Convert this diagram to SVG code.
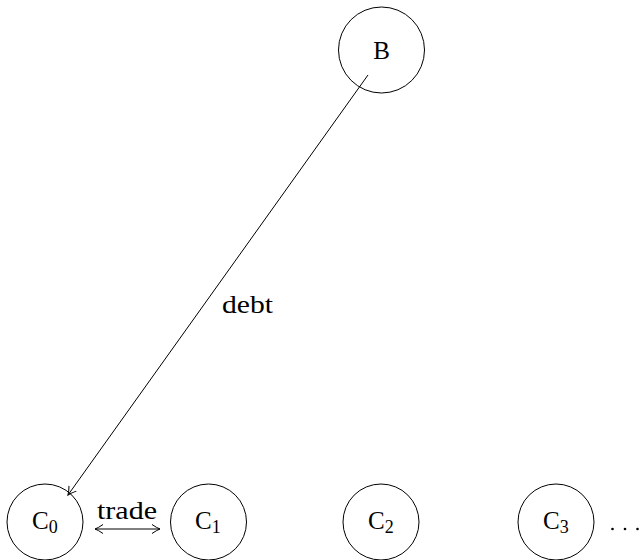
<svg xmlns="http://www.w3.org/2000/svg" width="640" height="560" viewBox="0 0 640 560">
<style>
  .node circle { fill: none; stroke: #000; stroke-width: 1; }
  text { font-family: "Liberation Serif", "DejaVu Serif", serif; fill: #000; }
  .lbl { font-size: 25px; }
  .sub { font-size: 18px; }
  .edge { fill: none; stroke: #000; stroke-width: 1; }
</style>
<defs>
  <marker id="arr" viewBox="-10 -6 12 12" refX="0" refY="0" markerWidth="12" markerHeight="12" markerUnits="userSpaceOnUse" orient="auto-start-reverse">
    <path d="M-8,-4.5 Q-3,-1 0,0 Q-3,1 -8,4.5" fill="none" stroke="#000" stroke-width="1"/>
  </marker>
</defs>
<rect width="640" height="560" fill="#fff"/>
<g id="B" class="node">
  <circle cx="381.5" cy="50" r="43"/>
  <text x="381.5" y="58.5" class="lbl" text-anchor="middle">B</text>
</g>
<g id="C0" class="node">
  <circle cx="45" cy="522" r="38"/>
  <text x="32" y="529" class="lbl">C<tspan class="sub" dy="4">0</tspan></text>
</g>
<g id="C1" class="node">
  <circle cx="208.5" cy="522" r="38"/>
  <text x="195" y="529" class="lbl">C<tspan class="sub" dy="4">1</tspan></text>
</g>
<g id="C2" class="node">
  <circle cx="381" cy="522" r="38"/>
  <text x="368" y="529" class="lbl">C<tspan class="sub" dy="4">2</tspan></text>
</g>
<g id="C3" class="node">
  <circle cx="556" cy="522" r="38"/>
  <text x="543" y="529" class="lbl">C<tspan class="sub" dy="4">3</tspan></text>
</g>
<g id="dots">
  <circle cx="612.5" cy="529" r="1.3" fill="#000"/>
  <circle cx="625" cy="529" r="1.3" fill="#000"/>
  <circle cx="637.5" cy="529" r="1.3" fill="#000"/>
</g>
<g id="connectors">
  <line class="edge" x1="368" y1="75" x2="68" y2="495" marker-end="url(#arr)"/>
  <text x="222" y="313" class="lbl" textLength="51" lengthAdjust="spacingAndGlyphs">debt</text>
  <line class="edge" x1="95" y1="529" x2="160" y2="529" stroke-width="1.4" marker-start="url(#arr)" marker-end="url(#arr)"/>
  <text x="97" y="519" class="lbl" textLength="60" lengthAdjust="spacingAndGlyphs">trade</text>
</g>
</svg>
